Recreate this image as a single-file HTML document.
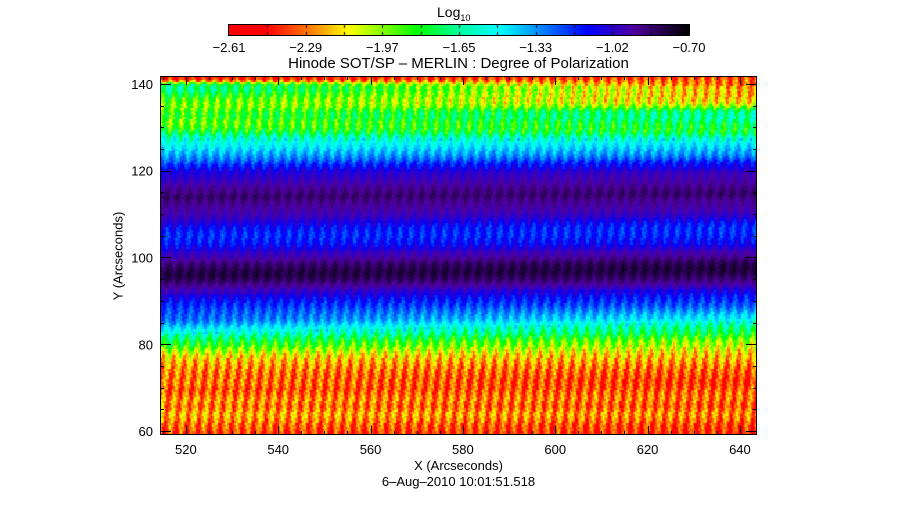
<!DOCTYPE html>
<html><head><meta charset="utf-8"><style>
body{margin:0;background:#fff;width:917px;height:512px;overflow:hidden;position:relative;font-family:"Liberation Sans",sans-serif;color:#000}
.t{position:absolute;white-space:nowrap;font-size:13px;line-height:1}
</style></head><body>
<div class="t" style="left:437px;top:5px;font-size:14px">Log<sub style="font-size:9px">10</sub></div>
<canvas id="cb" width="460" height="10" style="position:absolute;left:229px;top:25px;border:1px solid #000;box-sizing:content-box;margin:-1px"></canvas>
<div id="cbl"></div>
<div class="t" style="left:0;width:917px;text-align:center;top:56px;font-size:15px">Hinode SOT/SP – MERLIN : Degree of Polarization</div>
<canvas id="hm" width="597" height="359" style="position:absolute;left:160px;top:76px"></canvas>
<svg id="ax" width="917" height="512" style="position:absolute;left:0;top:0"></svg>
<div class="t" style="left:0;width:917px;text-align:center;left:0;top:459px">X (Arcseconds)</div>
<div class="t" style="left:0;width:917px;text-align:center;top:475px">6–Aug–2010 10:01:51.518</div>
<div class="t" style="left:118px;top:256px;transform:translate(-50%,-50%) rotate(-90deg)">Y (Arcseconds)</div>
<script>
const yLevels=[142,141,140,139,138,137,136,135,134,133,132,131,130,129,128,127,126,125,124,123,122,121,120,119,118,117,116,115,114,113,112,111,110,109,108,107,106,105,104,103,102,101,100,99,98,97,96,95,94,93,92,91,90,89,88,87,86,85,84,83,82,81,80,79,78,77,76,75,74,73,72,71,70,69,68,67,66,65,64,63,62,61,60,59];
const levelLeft=[0.05,0.1,0.45,0.5,0.45,0.4,0.35,0.33,0.35,0.38,0.35,0.33,0.37,0.42,0.5,0.55,0.57,0.6,0.64,0.67,0.7,0.76,0.8,0.82,0.84,0.86,0.88,0.9,0.92,0.9,0.88,0.87,0.86,0.84,0.82,0.78,0.75,0.74,0.75,0.77,0.8,0.84,0.86,0.89,0.92,0.94,0.95,0.93,0.9,0.87,0.84,0.8,0.77,0.74,0.72,0.71,0.7,0.67,0.62,0.57,0.5,0.45,0.4,0.33,0.28,0.22,0.2,0.18,0.16,0.15,0.15,0.16,0.12,0.13,0.16,0.18,0.15,0.17,0.2,0.18,0.15,0.14,0.12,0.08];
const levelRight=[0.1,0.15,0.12,0.2,0.18,0.2,0.22,0.3,0.45,0.5,0.5,0.45,0.42,0.42,0.5,0.57,0.6,0.63,0.66,0.7,0.76,0.8,0.84,0.86,0.87,0.88,0.9,0.92,0.9,0.88,0.87,0.86,0.84,0.8,0.76,0.74,0.74,0.75,0.77,0.8,0.84,0.87,0.9,0.93,0.95,0.95,0.93,0.9,0.87,0.83,0.78,0.75,0.73,0.7,0.66,0.62,0.58,0.52,0.47,0.43,0.38,0.32,0.28,0.25,0.22,0.2,0.18,0.15,0.13,0.12,0.1,0.1,0.12,0.14,0.15,0.14,0.12,0.15,0.17,0.15,0.12,0.1,0.1,0.06];
const stripe=[0.07,0.04,-0.02,-0.06,-0.05,0,0.04,0.07];
const jitter=[0.02,-0.03,0.04,-0.01,0.0,-0.03,0.02];
const cbTicks=["-2.61","-2.29","-1.97","-1.65","-1.33","-1.02","-0.70"];
const xTicks=[520,540,560,580,600,620,640];
const yTicks=[60,80,100,120,140];
const X0=514.4,X1=643.7,Y0=59.1,Y1=141.8,PL=160,PT=76,PW=597,PH=359;
const xs=v=>PL+(v-X0)/(X1-X0)*PW, ys=v=>PT+(Y1-v)/(Y1-Y0)*PH;
const stops=[[0,255,0,0],[0.08,255,0,0],[0.18,255,130,0],[0.26,255,255,0],[0.41,0,255,0],[0.5,0,255,160],[0.59,0,255,255],[0.68,0,130,255],[0.78,0,0,255],[0.88,80,0,160],[1,0,0,0]];
function cmap(t){t=Math.max(0,Math.min(1,t));for(let i=1;i<stops.length;i++){if(t<=stops[i][0]){const a=stops[i-1],b=stops[i],f=(t-a[0])/(b[0]-a[0]);return `rgb(${[1,2,3].map(k=>Math.round(a[k]+(b[k]-a[k])*f)).join(',')})`;}}return 'rgb(0,0,0)';}
const cb=document.getElementById('cb').getContext('2d');
for(let i=0;i<460;i++){cb.fillStyle=cmap(i/459);cb.fillRect(i,0,1,10);}
cb.fillStyle='#000';for(let k=1;k<12;k++)cb.fillRect(Math.round(k*460/12),0,1,3),cb.fillRect(Math.round(k*460/12),7,1,3);
const cbl=document.getElementById('cbl');
cbTicks.forEach((s,i)=>{const d=document.createElement('div');d.className='t';


d.style.left=(229+i*460/6-30)+'px';d.style.width='60px';d.style.textAlign='center';d.style.top='41px';d.textContent=s.replace('-','\u2212');cbl.appendChild(d);});
function prof(arr,v){const k=Math.max(0,Math.min(arr.length-1,142-v));const a=Math.floor(k),b=Math.min(arr.length-1,a+1),f=k-a;return arr[a]*(1-f)+arr[b]*f;}
const hm=document.getElementById('hm').getContext('2d');
const dx=0.3,dy=0.5;
let r=0;
for(let v=Y1;v>Y0-dy;v-=dy,r++){
  let c=0;
  for(let x=X0;x<X1;x+=dx,c++){
    const f=(x-X0)/(X1-X0);
    let t=prof(levelLeft,v)*(1-f)+prof(levelRight,v)*f;
    const amp=t<0.55?1.1:(t<0.8?0.6:0.3);
    t+=amp*(stripe[(c+Math.floor(r/5))%stripe.length]+jitter[(c*3+r*2)%jitter.length]);
    hm.fillStyle=cmap(t);
    const px=xs(x)-PL,py=ys(v)-PT;
    hm.fillRect(Math.floor(px),Math.floor(py),Math.ceil(dx/(X1-X0)*PW)+1,Math.ceil(dy/(Y1-Y0)*PH)+1);
  }
}
const ax=document.getElementById('ax');const NS='http://www.w3.org/2000/svg';
function ln(x1,y1,x2,y2,n){const l=document.createElementNS(NS,'line');l.setAttribute('x1',x1);l.setAttribute('y1',y1);l.setAttribute('x2',x2);l.setAttribute('y2',y2);l.setAttribute('stroke','#000');l.setAttribute('stroke-width','1');


ax.appendChild(l);}
const fr=document.createElementNS(NS,'rect');fr.setAttribute('x',PL+0.5);fr.setAttribute('y',PT+0.5);fr.setAttribute('width',PW-1);fr.setAttribute('height',PH-1);fr.setAttribute('fill','none');fr.setAttribute('stroke','#000');


ax.appendChild(fr);
for(let v=515;v<=X1;v+=5){const x=Math.round(xs(v))+0.5,L=v%20===0?9:4;ln(x,PT+PH,x,PT+PH-L,'x-tick');ln(x,PT,x,PT+L,'x-tick-top');}
for(let v=60;v<=Y1;v+=5){const y=Math.round(ys(v))+0.5,L=v%20===0?11:4;ln(PL,y,PL+L,y,'y-tick');ln(PL+PW,y,PL+PW-L,y,'y-tick-right');}
function tx(x,y,s,anchor,n){const t=document.createElementNS(NS,'text');t.setAttribute('x',x);t.setAttribute('y',y);t.setAttribute('text-anchor',anchor);t.setAttribute('font-size','13');t.setAttribute('font-family','Liberation Sans, sans-serif');t.textContent=s;


ax.appendChild(t);}
xTicks.forEach(v=>tx(xs(v),454,String(v),'middle','x-tick-label'));
yTicks.forEach(v=>tx(153,ys(v)+5,String(v),'end','y-tick-label'));
</script>
</body></html>
